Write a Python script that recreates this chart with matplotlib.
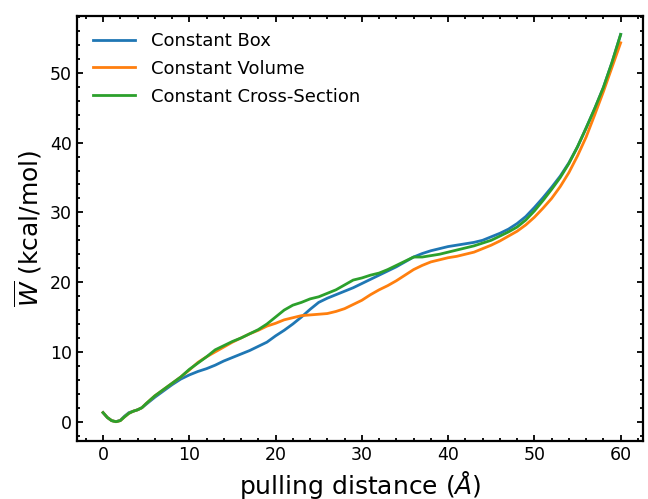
import numpy as np
import matplotlib.pyplot as plt
from matplotlib.ticker import MultipleLocator

# pulling distance (Angstrom)
dist = [0, 0.5, 1, 1.5, 2, 2.5, 3, 3.5, 4, 4.5] + list(range(5, 61))

# PMF / work curves (kcal/mol)
w_box = [1.3, 0.6, 0.15, 0.0, 0.2, 0.8, 1.3, 1.5, 1.7, 2.0,
         2.5, 3.5, 4.4, 5.3, 6.1, 6.7, 7.2, 7.6, 8.1, 8.7,
         9.2, 9.7, 10.2, 10.8, 11.4, 12.3, 13.1, 14.0, 15.0, 16.1,
         17.1, 17.7, 18.2, 18.7, 19.2, 19.8, 20.4, 21.0, 21.6, 22.2,
         22.9, 23.6, 24.1, 24.5, 24.8, 25.1, 25.3, 25.5, 25.7, 26.0,
         26.5, 27.0, 27.6, 28.4, 29.4, 30.7, 32.1, 33.6, 35.2, 37.1,
         39.4, 42.1, 44.9, 47.9, 51.5, 55.5]
w_volume = [1.3, 0.6, 0.15, 0.0, 0.15, 0.7, 1.2, 1.5, 1.7, 2.0,
            2.6, 3.7, 4.6, 5.5, 6.4, 7.4, 8.5, 9.3, 10.0, 10.7,
            11.4, 12.0, 12.6, 13.1, 13.7, 14.1, 14.6, 14.9, 15.2, 15.3,
            15.4, 15.5, 15.8, 16.2, 16.8, 17.4, 18.2, 18.9, 19.5, 20.2,
            21.0, 21.8, 22.4, 22.9, 23.2, 23.5, 23.7, 24.0, 24.3, 24.8,
            25.3, 25.9, 26.6, 27.3, 28.2, 29.3, 30.6, 32.0, 33.7, 35.7,
            38.1, 40.8, 44.0, 47.3, 50.8, 54.3]
w_cross = [1.3, 0.6, 0.15, 0.0, 0.15, 0.7, 1.2, 1.5, 1.7, 2.0,
           2.6, 3.7, 4.6, 5.5, 6.4, 7.5, 8.4, 9.3, 10.3, 10.9,
           11.5, 12.0, 12.6, 13.2, 14.0, 15.0, 16.0, 16.7, 17.1, 17.6,
           17.9, 18.4, 18.9, 19.6, 20.3, 20.6, 21.0, 21.3, 21.8, 22.4,
           23.0, 23.6, 23.6, 23.8, 24.0, 24.3, 24.6, 24.9, 25.2, 25.6,
           26.0, 26.6, 27.2, 27.9, 28.9, 30.2, 31.7, 33.3, 35.0, 37.0,
           39.4, 42.1, 44.9, 47.9, 51.5, 55.5]

labels = ['Constant Box', 'Constant Volume', 'Constant Cross-Section']

fig = plt.figure(figsize=(6.48, 4.99), dpi=100)
ax = fig.add_axes([0.1184, 0.1162, 0.874, 0.8525])

for w, lab in zip([w_box, w_volume, w_cross], labels):
    ax.plot(dist, w, lw=2, label=lab)

ax.set_xlim(-3.05, 62.6)
ax.set_ylim(-2.77, 58.2)
ax.xaxis.set_major_locator(MultipleLocator(10))
ax.xaxis.set_minor_locator(MultipleLocator(2))
ax.yaxis.set_major_locator(MultipleLocator(10))
ax.yaxis.set_minor_locator(MultipleLocator(2))
ax.tick_params(which='both', direction='in', top=True, right=True, labelsize=12.5, width=1.3)
ax.tick_params(which='major', length=4.3)
ax.tick_params(which='minor', length=2.2)
for s in ax.spines.values():
    s.set_linewidth(1.6)

ax.set_xlabel('pulling distance ($Å$)', fontsize=18)
ax.set_ylabel(r'$\overline{W}$ (kcal/mol)', fontsize=18)
ax.legend(loc='upper left', frameon=False, fontsize=13,
          handlelength=2.3, handletextpad=0.9, labelspacing=0.55)

fig.savefig('out.png', dpi=100)
